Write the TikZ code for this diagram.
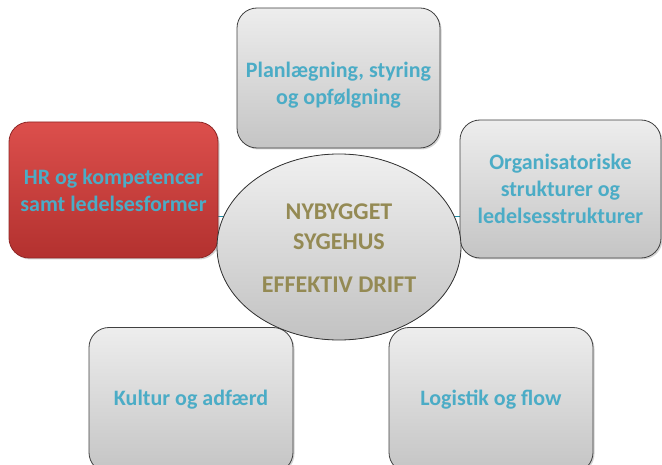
\documentclass[tikz,border=0pt]{standalone}
\usepackage{fontspec}
\setmainfont{Carlito}
\usetikzlibrary{shadows,positioning}
\definecolor{boxtext}{HTML}{4BACC6}
\definecolor{coretext}{HTML}{948A54}
\definecolor{linkcol}{HTML}{1F8FA8}
\definecolor{redtop}{HTML}{DC4F4C}
\definecolor{redbot}{HTML}{B3312F}
\tikzset{
  topic/.style={draw=black!75, line width=0.8pt, rounded corners=20pt,
    top color=black!7, bottom color=black!23, align=center,
    text=boxtext, font=\bfseries\fontsize{22}{27}\selectfont,
    drop shadow={shadow xshift=1.5pt, shadow yshift=-1.5pt, opacity=0.35}},
  redtopic/.style={topic, draw=redbot!80!black, top color=redtop, bottom color=redbot},
  coretxt/.style={text=coretext, font=\bfseries\fontsize{24}{30}\selectfont, align=center},
  link/.style={draw=linkcol, line width=1pt}
}
\begin{document}
\begin{tikzpicture}[x=1pt,y=-1pt]
\useasboundingbox (0,0) rectangle (662,465);
\clip (0,0) rectangle (662,465);
% connectors behind the shapes
\coordinate (c) at (339,247);
\coordinate (lft) at (200,217);
\coordinate (rgt) at (480,217);
\draw[link] (lft) -- (rgt);
% outer topics
\node[topic, minimum width=203pt, minimum height=140pt] (plan) at (338.5,78) {\rule{0pt}{30pt}Planlægning, styring\\og opfølgning};
\node[topic, minimum width=201pt, minimum height=138pt] (org) at (560.5,189) {Organisatoriske\\strukturer og\\ledelsesstrukturer};
\node[redtopic, minimum width=209pt, minimum height=136pt] (hr) at (113.5,190) {HR og kompetencer\\samt ledelsesformer};
\node[topic, minimum width=204pt, minimum height=145pt] (kul) at (191,400) {Kultur og adfærd};
\node[topic, minimum width=204pt, minimum height=145pt] (log) at (491,400) {Logistik og flow};
% central ellipse
\fill[top color=black!6, bottom color=black!24] (c) ellipse [x radius=122, y radius=93];
\draw[black!80, line width=0.8pt] (c) ellipse [x radius=122, y radius=93];
\node[coretxt] (core) at (339,227) {NYBYGGET\\SYGEHUS};
\node[coretxt] (drift) at (339,285) {EFFEKTIV DRIFT};
\end{tikzpicture}
\end{document}
